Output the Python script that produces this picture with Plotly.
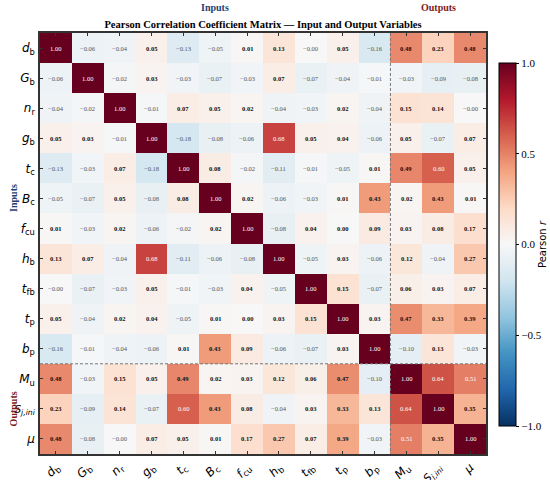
import plotly.graph_objects as go

inputs = ["d_b", "G_b", "n_r", "g_b", "t_c", "B_c", "f_cu", "h_b", "t_fb", "t_p", "b_p"]
outputs = ["M_u", "S_j,ini", "mu"]

labels_html = [
    "<i>d</i><sub>b</sub>", "<i>G</i><sub>b</sub>", "<i>n</i><sub>r</sub>", "<i>g</i><sub>b</sub>",
    "<i>t</i><sub>c</sub>", "<i>B</i><sub>c</sub>", "<i>f</i><sub>cu</sub>", "<i>h</i><sub>b</sub>",
    "<i>t</i><sub>fb</sub>", "<i>t</i><sub>p</sub>", "<i>b</i><sub>p</sub>",
    "<i>M</i><sub>u</sub>",
    "<span style='font-size:11px'><i>S</i><sub><i>j,ini</i></sub></span>",
    "<i>μ</i>",
]

corr = [
    [1.00, -0.06, -0.04, 0.05, -0.13, -0.05, 0.01, 0.13, -0.00, 0.05, -0.16, 0.48, 0.23, 0.48],
    [-0.06, 1.00, -0.02, 0.03, -0.03, -0.07, -0.03, 0.07, -0.07, -0.04, -0.01, -0.03, -0.09, -0.08],
    [-0.04, -0.02, 1.00, -0.01, 0.07, 0.05, 0.02, -0.04, -0.03, 0.02, -0.04, 0.15, 0.14, -0.00],
    [0.05, 0.03, -0.01, 1.00, -0.18, -0.08, -0.06, 0.68, 0.05, 0.04, -0.06, 0.05, -0.07, 0.07],
    [-0.13, -0.03, 0.07, -0.18, 1.00, 0.08, -0.02, -0.11, -0.01, -0.05, 0.01, 0.49, 0.60, 0.05],
    [-0.05, -0.07, 0.05, -0.08, 0.08, 1.00, 0.02, -0.06, -0.03, 0.01, 0.43, 0.02, 0.43, 0.01],
    [0.01, -0.03, 0.02, -0.06, -0.02, 0.02, 1.00, -0.08, 0.04, 0.00, 0.09, 0.03, 0.08, 0.17],
    [0.13, 0.07, -0.04, 0.68, -0.11, -0.06, -0.08, 1.00, -0.05, 0.03, -0.06, 0.12, -0.04, 0.27],
    [-0.00, -0.07, -0.03, 0.05, -0.01, -0.03, 0.04, -0.05, 1.00, 0.15, -0.07, 0.06, 0.03, 0.07],
    [0.05, -0.04, 0.02, 0.04, -0.05, 0.01, 0.00, 0.03, 0.15, 1.00, 0.03, 0.47, 0.33, 0.39],
    [-0.16, -0.01, -0.04, -0.06, 0.01, 0.43, 0.09, -0.06, -0.07, 0.03, 1.00, -0.10, 0.13, -0.03],
    [0.48, -0.03, 0.15, 0.05, 0.49, 0.02, 0.03, 0.12, 0.06, 0.47, -0.10, 1.00, 0.64, 0.51],
    [0.23, -0.09, 0.14, -0.07, 0.60, 0.43, 0.08, -0.04, 0.03, 0.33, 0.13, 0.64, 1.00, 0.35],
    [0.48, -0.08, -0.00, 0.07, 0.05, 0.01, 0.17, 0.27, 0.07, 0.39, -0.03, 0.51, 0.35, 1.00],
]
# cells whose printed value is "-0.00"
neg_zero = {(0, 8), (8, 0), (2, 13), (13, 2)}

cbar_ticks = [-1.0, -0.5, 0.0, 0.5, 1.0]

rdbu_r = ["#053061", "#2166ac", "#4393c3", "#92c5de", "#d1e5f0", "#f7f7f7",
          "#fddbc7", "#f4a582", "#d6604d", "#b2182b", "#67001f"]
colorscale = [[i / 10, c] for i, c in enumerate(rdbu_r)]

n = len(labels_html)
idx = list(range(n))

fig = go.Figure()
fig.add_trace(go.Heatmap(
    z=corr, x=idx, y=idx, zmin=-1, zmax=1, colorscale=colorscale,
    xgap=0, ygap=0, hoverinfo="skip",
    colorbar=dict(
        x=1.029, xanchor="left", y=0.4976, yanchor="middle", xpad=0, ypad=0,
        lenmode="pixels", len=363, thickness=17,
        outlinecolor="black", outlinewidth=1,
        tickvals=cbar_ticks, ticktext=[f"{v:.1f}".replace("-", "−") for v in cbar_ticks],
        ticks="outside", ticklen=3, tickcolor="black",
        tickfont=dict(family="Liberation Serif", size=11, color="black"),
        title=dict(text="Pearson <i>r</i>", side="right",
                   font=dict(family="DejaVu Sans", size=10, color="black")),
    ),
))

annotations = []
for i in range(n):
    for j in range(n):
        v = corr[i][j]
        negative = v < 0 or (i, j) in neg_zero
        txt = ("−" if negative else "") + f"{abs(v):.2f}"
        if abs(v) >= 0.5:
            color = "white"
            t = txt
        elif negative:
            color = "#555555"
            t = txt
        else:
            color = "#111111"
            t = "<b>" + txt + "</b>"
        annotations.append(dict(x=j, y=i, text=t, showarrow=False,
                                font=dict(family="Liberation Serif", size=6.5, color=color)))

n_in = len(inputs)
in_center = (n_in - 1) / 2
out_center = n_in + (len(outputs) - 1) / 2
annotations += [
    dict(x=in_center, xref="x", y=1.0, yref="paper", yshift=18, yanchor="bottom",
         text="<b>Inputs</b>", showarrow=False,
         font=dict(family="Liberation Serif", size=10, color="#1f3f73")),
    dict(x=out_center, xref="x", y=1.0, yref="paper", yshift=18, yanchor="bottom",
         text="<b>Outputs</b>", showarrow=False,
         font=dict(family="Liberation Serif", size=10, color="#7a1a1a")),
    dict(x=0, xref="paper", xshift=-34, y=in_center, yref="y", textangle=-90,
         text="<b>Inputs</b>", showarrow=False,
         font=dict(family="Liberation Serif", size=10, color="#1f3f73")),
    dict(x=0, xref="paper", xshift=-34, y=out_center, yref="y", textangle=-90,
         text="<b>Outputs</b>", showarrow=False,
         font=dict(family="Liberation Serif", size=10, color="#7a1a1a")),
]

shapes = [
    dict(type="line", xref="x", yref="y", x0=n_in - 0.5, x1=n_in - 0.5, y0=-0.5, y1=n - 0.5,
         line=dict(color="#777777", width=1, dash="3px,2px")),
    dict(type="line", xref="x", yref="y", x0=-0.5, x1=n - 0.5, y0=n_in - 0.5, y1=n_in - 0.5,
         line=dict(color="#777777", width=1, dash="3px,2px")),
]

axis_common = dict(
    tickmode="array", tickvals=idx, ticktext=labels_html,
    ticks="inside", ticklen=3, tickcolor="#333333", tickwidth=1,
    showline=True, linecolor="#333333", linewidth=1.5, mirror="ticks",
    showgrid=False, zeroline=False, automargin=False,
    tickfont=dict(family="DejaVu Sans", size=12, color="black"),
)

fig.update_layout(
    width=550, height=480,
    margin=dict(l=40, r=64, t=33, b=26, autoexpand=False),
    paper_bgcolor="white", plot_bgcolor="white",
    title=dict(text="<b>Pearson Correlation Coefficient Matrix — Input and Output Variables</b>",
               x=0.5, xref="paper", xanchor="center", y=1, yref="paper", yanchor="bottom", pad=dict(b=5),
               font=dict(family="Liberation Serif", size=10.5, color="black"),
               automargin=False),
    xaxis=dict(**axis_common, range=[-0.5, n - 0.5], tickangle=-45),
    yaxis=dict(**axis_common, range=[n - 0.5, -0.5], ticklabelstandoff=1),
    annotations=annotations,
    shapes=shapes,
)

fig.write_html("out.html", config={"displayModeBar": False},
               post_script="document.body.style.margin='0px';document.body.style.overflow='hidden';")
